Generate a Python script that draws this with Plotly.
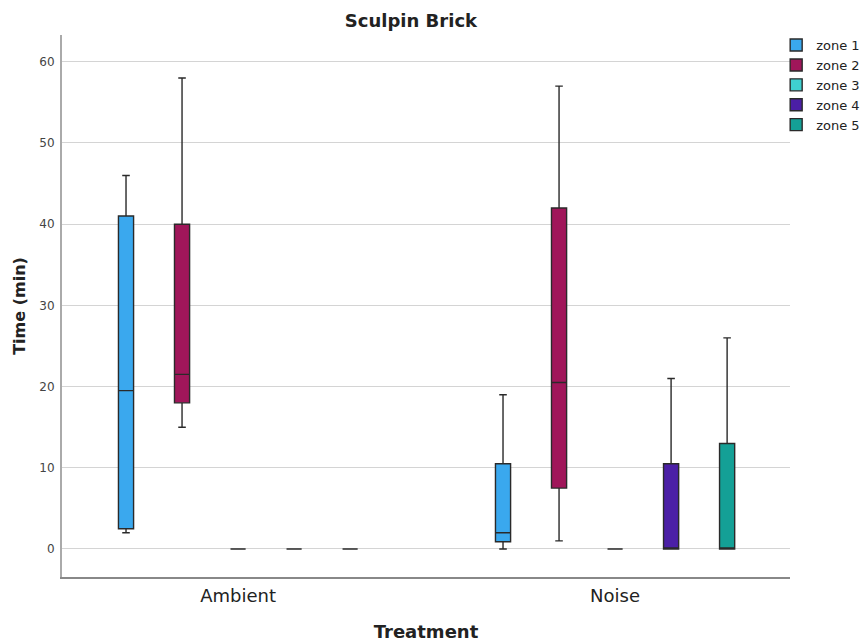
import plotly.graph_objects as go

treatments = ["Ambient", "Noise"]
zones = ["zone 1", "zone 2", "zone 3", "zone 4", "zone 5"]
colors = ["#3AA8EE", "#A0165A", "#3FD0D0", "#4B1FA6", "#14A096"]

# per zone: [Ambient, Noise]
lower = {"zone 1": [2, 0], "zone 2": [15, 1], "zone 3": [0, 0], "zone 4": [0, 0], "zone 5": [0, 0]}
q1 = {"zone 1": [2.5, 0.9], "zone 2": [18, 7.5], "zone 3": [0, 0], "zone 4": [0, 0], "zone 5": [0, 0]}
median = {"zone 1": [19.5, 2], "zone 2": [21.5, 20.5], "zone 3": [0, 0], "zone 4": [0, 0], "zone 5": [0, 0]}
q3 = {"zone 1": [41, 10.5], "zone 2": [40, 42], "zone 3": [0, 0], "zone 4": [0, 10.5], "zone 5": [0, 13]}
upper = {"zone 1": [46, 19], "zone 2": [58, 57], "zone 3": [0, 0], "zone 4": [0, 21], "zone 5": [0, 26]}

y_ticks = [0, 10, 20, 30, 40, 50, 60]

FONT = "DejaVu Sans"

fig = go.Figure()
for z, c in zip(zones, colors):
    fig.add_trace(go.Box(
        name=z,
        x=treatments,
        q1=q1[z], median=median[z], q3=q3[z],
        lowerfence=lower[z], upperfence=upper[z],
        fillcolor=c,
        line=dict(color="#2a2a2a", width=1.4),
        whiskerwidth=0.5,
        boxpoints=False,
        hoverinfo="skip",
    ))

fig.update_layout(
    width=867, height=643,
    margin=dict(l=62, r=77, t=35, b=66, autoexpand=False),
    paper_bgcolor="white", plot_bgcolor="white",
    boxmode="group", boxgap=0.257, boxgroupgap=0.73,
    title=dict(text="<b>Sculpin Brick</b>", x=0.474, xanchor="center", y=0.968, yanchor="middle",
               font=dict(family=FONT, size=18, color="#222")),
    font=dict(family=FONT, color="#222"),
    showlegend=True,
    legend=dict(x=0.981, y=1.009, xanchor="left", yanchor="top",
                font=dict(family=FONT, size=13, color="#222"),
                bgcolor="rgba(0,0,0,0)", tracegroupgap=0, itemwidth=30),
    xaxis=dict(
        type="category", range=[-0.467, 1.464],
        showline=True, linecolor="#888", linewidth=1.5,
        showgrid=False, ticks="", tickfont=dict(size=18, color="#222"),
        ticklabelstandoff=2,
        title=dict(text="<b>Treatment</b>", font=dict(size=18, color="#222"), standoff=20),
        zeroline=False,
    ),
    yaxis=dict(
        range=[-3.45, 63.3], tickvals=y_ticks,
        showline=True, linecolor="#aaa", linewidth=2,
        showgrid=True, gridcolor="#d4d4d4", gridwidth=1,
        zeroline=False, ticks="", tickfont=dict(size=12, color="#444"),
        ticklabelstandoff=3,
        title=dict(text="<b>Time (min)</b>", font=dict(size=16, color="#222"), standoff=10),
    ),
)

fig.write_html("out.html")
